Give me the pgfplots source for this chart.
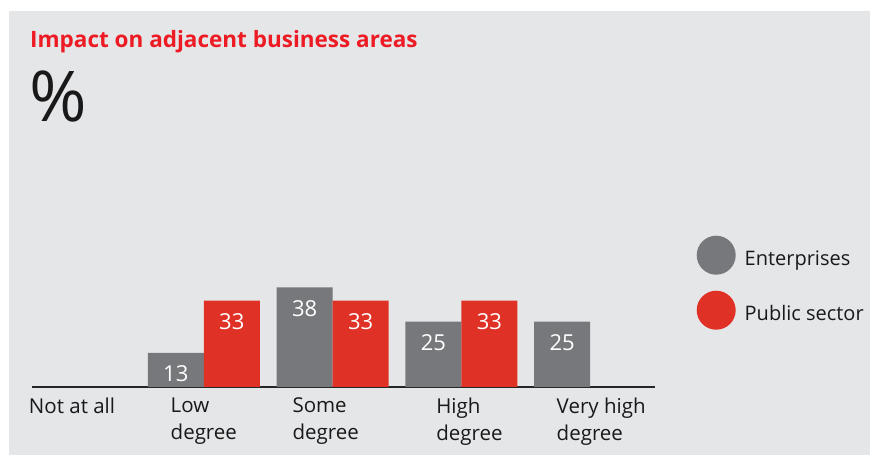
\documentclass[border=0pt]{standalone}
\usepackage{pgfplots}
\pgfplotsset{compat=1.18}
\usepackage{fontspec}
\setmainfont{Open Sans}
\definecolor{bgc}{HTML}{E5E6E8}
\definecolor{entc}{HTML}{77787B}
\definecolor{pubc}{HTML}{E03127}
\definecolor{publ}{HTML}{ED1C24}
\definecolor{titc}{HTML}{ED1C24}
\begin{document}
\begin{tikzpicture}[x=1pt,y=1pt]
\path[use as bounding box] (0,0) rectangle (870,455);
\fill[bgc] (9,0) rectangle (870,444);
\node[anchor=base west, inner sep=0pt, text=titc, font=\bfseries\fontsize{22.5}{26}\selectfont] at (30,407) {Impact on adjacent business areas};
\node[anchor=base west, inner sep=0pt, text=black!90, font=\fontsize{70}{80}\selectfont] at (29,333) {\%};
\begin{axis}[
  at={(32pt,68pt)}, anchor=south west,
  scale only axis,
  width=623pt, height=104.8pt,
  xmin=-0.334, xmax=4.503,
  ymin=0, ymax=40,
  ybar=0pt, bar width=56pt,
  axis x line*=bottom,
  axis y line=none,
  x axis line style={-, draw=black!85, line width=1.2pt},
  xtick={-0.023,0,1.946,3.062,4.085},
  xticklabels={Not at all, Low\\degree, Some\\degree, High\\degree, Very high\\degree},
  xtick={-0.023,1,1.946,3.062,4.085},
  xticklabel style={align=left, anchor=north, font=\fontsize{20.5}{27}\selectfont, text=black!90, yshift=-7pt},
  major tick length=0pt,
  ytick=\empty,
  clip=false,
  /pgf/number format/assume math mode=true,
  nodes near coords,
  nodes near coords style={anchor=center, yshift=-21pt, text=white, font=\fontsize{22}{24}\selectfont},
  legend style={at={(axis description cs:1.0666,1.4456)}, anchor=north west, draw=none, fill=none, inner sep=0pt, row sep=16pt, font=\fontsize{20}{24}\selectfont, text=black!90, cells={anchor=west}, /tikz/every odd column/.append style={column sep=7pt}},
  legend image code/.code={\fill[#1] (19.5pt,0.38em) circle (19.5pt);},
]
\addplot[fill=entc, draw=none] coordinates {(1,13) (2,38) (3,25) (4,25)};
\addlegendentry{Enterprises}
\addplot[fill=pubc, draw=none] coordinates {(1,33) (2,33) (3,33)};
\addlegendentry{Public sector}
\end{axis}
\end{tikzpicture}
\end{document}
